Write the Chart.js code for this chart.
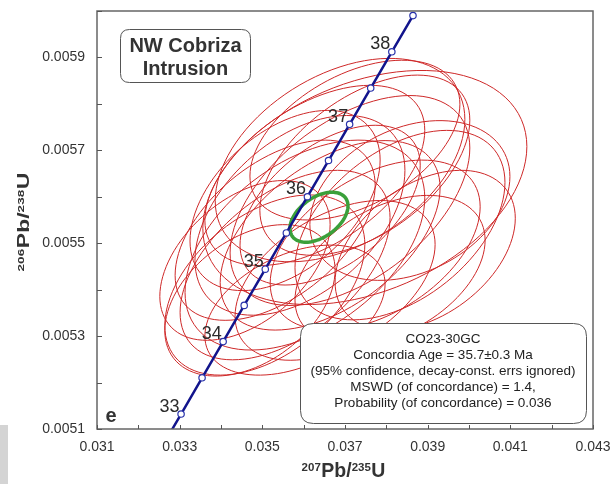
<!DOCTYPE html>
<html>
<head>
<meta charset="utf-8">
<script src="https://cdn.jsdelivr.net/npm/chart.js@4.4.1/dist/chart.umd.min.js"></script>
<style>
    html, body { margin: 0; padding: 0; background: #fff; }
    #wrap { position: relative; width: 614px; height: 484px; }
</style>
</head>
<body>
<div id="wrap"><canvas id="grafico" width="614" height="484"></canvas></div>
<script>
// --- DADOS: CONCORDIA (idade em Ma) ---
const idades = [32.5, 33, 33.5, 34, 34.5, 35, 35.5, 36, 36.5, 37, 37.5, 38, 38.5];
const conc207 = [0.032525, 0.033034, 0.033542, 0.034052, 0.034561, 0.035071, 0.035581, 0.036091, 0.036601, 0.037112, 0.037622, 0.038133, 0.038645];
const conc206 = [0.0050543, 0.0051322, 0.0052102, 0.0052882, 0.0053661, 0.0054441, 0.0055221, 0.0056001, 0.0056781, 0.0057561, 0.0058341, 0.0059122, 0.0059901];
const idadesRotulo = [33, 34, 35, 36, 37, 38];

// --- DADOS: ELIPSES DAS ANALISES (centro, erro 2s, correlacao) ---
const elipseX = [0.03748, 0.03688, 0.03857, 0.03591, 0.03664, 0.03506, 0.03470, 0.03555, 0.03712, 0.03773, 0.03809, 0.03627, 0.03531, 0.03748, 0.03458, 0.03676, 0.03894, 0.03603, 0.03724, 0.03579, 0.03664, 0.03555, 0.03833];
const elipseY = [0.005620, 0.005679, 0.005592, 0.005560, 0.005517, 0.005410, 0.005377, 0.005453, 0.005592, 0.005496, 0.005442, 0.005646, 0.005528, 0.005668, 0.005463, 0.005420, 0.005485, 0.005496, 0.005722, 0.005356, 0.005582, 0.005592, 0.005539];
const elipseSx = [0.00392, 0.00302, 0.00242, 0.00254, 0.00266, 0.00242, 0.00206, 0.00254, 0.00290, 0.00254, 0.00230, 0.00266, 0.00242, 0.00254, 0.00206, 0.00242, 0.00218, 0.00290, 0.00254, 0.00218, 0.00218, 0.00230, 0.00254];
const elipseSy = [0.000252, 0.000219, 0.000172, 0.000215, 0.000204, 0.000194, 0.000163, 0.000204, 0.000226, 0.000183, 0.000161, 0.000194, 0.000194, 0.000194, 0.000172, 0.000172, 0.000172, 0.000226, 0.000172, 0.000140, 0.000172, 0.000194, 0.000204];
const elipseRho = [0.35, 0.4, 0.3, 0.45, 0.5, 0.45, 0.4, 0.5, 0.5, 0.45, 0.4, 0.5, 0.5, 0.5, 0.45, 0.45, 0.4, 0.45, 0.45, 0.4, 0.5, 0.45, 0.45];

// idade concordia (elipse verde)
const idadeCentro = [0.03637, 0.005556];
const idadeErro = [0.000702, 0.0000538];
const idadeRho = 0.45;

// --- TEXTOS ---
const tituloAmostra = ['NW Cobriza', 'Intrusion'];
const textoResultado = [
    'CO23-30GC',
    'Concordia Age = 35.7\u00b10.3 Ma',
    '(95% confidence, decay-const. errs ignored)',
    'MSWD (of concordance) = 1.4,',
    'Probability (of concordance) = 0.036'
];
const tituloX = [['207', true], ['Pb/', false], ['235', true], ['U', false]];
const tituloY = [['206', true], ['Pb/', false], ['238', true], ['U', false]];

const corTexto = '#2b2b2b';

function caixaArredondada(ctx, x, y, w, h, r) {
    ctx.beginPath();
    ctx.moveTo(x + r, y);
    ctx.lineTo(x + w - r, y);
    ctx.quadraticCurveTo(x + w, y, x + w, y + r);
    ctx.lineTo(x + w, y + h - r);
    ctx.quadraticCurveTo(x + w, y + h, x + w - r, y + h);
    ctx.lineTo(x + r, y + h);
    ctx.quadraticCurveTo(x, y + h, x, y + h - r);
    ctx.lineTo(x, y + r);
    ctx.quadraticCurveTo(x, y, x + r, y);
    ctx.closePath();
}

function desenharElipse(ctx, escX, escY, cx, cy, sx, sy, rho) {
    const k = Math.sqrt(1 - rho * rho);
    ctx.beginPath();
    for (let i = 0; i <= 96; i++) {
        const t = i / 96 * 2 * Math.PI;
        const vx = cx + sx * Math.cos(t);
        const vy = cy + sy * (rho * Math.cos(t) + k * Math.sin(t));
        const px = escX.getPixelForValue(vx);
        const py = escY.getPixelForValue(vy);
        if (i === 0) ctx.moveTo(px, py); else ctx.lineTo(px, py);
    }
    ctx.closePath();
    ctx.stroke();
}

// texto com numeros de massa sobrescritos, centrado em (0,0)
function textoIsotopo(ctx, partes, tamanho, tamanhoSup) {
    const fonteN = `bold ${tamanho}px Arial, "Liberation Sans", sans-serif`;
    const fonteS = `bold ${tamanhoSup}px Arial, "Liberation Sans", sans-serif`;
    const subida = 0.716 * (tamanho - tamanhoSup) + 0.5;
    let total = 0;
    partes.forEach(([t, sup]) => {
        ctx.font = sup ? fonteS : fonteN;
        total += ctx.measureText(t).width + (sup ? 0.5 : 0);
    });
    let x = -total / 2;
    ctx.textAlign = 'left';
    ctx.textBaseline = 'alphabetic';
    partes.forEach(([t, sup]) => {
        ctx.font = sup ? fonteS : fonteN;
        ctx.fillText(t, x, sup ? -subida : 0);
        x += ctx.measureText(t).width + (sup ? 0.5 : 0);
    });
}

// zera o espaco extra que o Chart.js reserva para os rotulos das pontas
function semFolga(s) {
    s.paddingLeft = 0;
    s.paddingRight = 0;
    s.paddingTop = 0;
    s.paddingBottom = 0;
}

// --- PLUGIN: ELIPSES (atras da concordia) ---
const pluginElipses = {
    id: 'elipses',
    beforeDatasetsDraw(chart) {
        const { ctx, chartArea: a, scales: { x, y } } = chart;
        ctx.save();
        ctx.beginPath();
        ctx.rect(a.left, a.top, a.width, a.height);
        ctx.clip();
        ctx.strokeStyle = 'rgb(206, 40, 40)';
        ctx.lineWidth = 1;
        for (let i = 0; i < elipseX.length; i++) {
            desenharElipse(ctx, x, y, elipseX[i], elipseY[i], elipseSx[i], elipseSy[i], elipseRho[i]);
        }
        ctx.strokeStyle = 'rgb(58, 160, 58)';
        ctx.lineWidth = 3.5;
        desenharElipse(ctx, x, y, idadeCentro[0], idadeCentro[1], idadeErro[0], idadeErro[1], idadeRho);
        ctx.restore();
    }
};

// --- PLUGIN: MOLDURA, TICKS, CAIXAS E TITULOS ---
const pluginDecoracao = {
    id: 'decoracao',
    afterDatasetsDraw(chart) {
        const { ctx, chartArea: a, scales: { x, y } } = chart;
        ctx.save();

        // rotulos de idade na concordia
        ctx.font = '18px Arial, "Liberation Sans", sans-serif';
        ctx.fillStyle = corTexto;
        ctx.textAlign = 'center';
        ctx.textBaseline = 'middle';
        idadesRotulo.forEach(idade => {
            const i = idades.indexOf(idade);
            const px = x.getPixelForValue(conc207[i]);
            const py = y.getPixelForValue(conc206[i]);
            ctx.fillText(String(idade), px - 11.5, py - 7.5);
        });

        // caixa do resultado
        caixaArredondada(ctx, 300.5, 323.5, 286, 100, 13);
        ctx.fillStyle = '#fff';
        ctx.fill();
        ctx.strokeStyle = '#555';
        ctx.lineWidth = 1;
        ctx.stroke();
        ctx.fillStyle = '#222';
        ctx.font = '13.5px Arial, "Liberation Sans", sans-serif';
        textoResultado.forEach((linha, i) => ctx.fillText(linha, 443, 339 + i * 16));

        // caixa do nome da amostra
        caixaArredondada(ctx, 120.5, 29.5, 130, 53, 9);
        ctx.fillStyle = '#fff';
        ctx.fill();
        ctx.strokeStyle = '#555';
        ctx.stroke();
        ctx.fillStyle = '#333';
        ctx.font = 'bold 20px Arial, "Liberation Sans", sans-serif';
        ctx.fillText(tituloAmostra[0], 185.5, 46);
        ctx.fillText(tituloAmostra[1], 185.5, 69.5);

        // letra do painel
        ctx.font = 'bold 20px Arial, "Liberation Sans", sans-serif';
        ctx.fillText('e', 111, 416);

        // moldura
        ctx.strokeStyle = '#666';
        ctx.lineWidth = 1.5;
        ctx.strokeRect(a.left, a.top, a.width, a.height);

        // ticks para dentro
        ctx.lineWidth = 1;
        ctx.strokeStyle = '#555';
        ctx.beginPath();
        x.ticks.forEach(t => {
            const px = Math.round(x.getPixelForValue(t.value)) + 0.5;
            ctx.moveTo(px, a.bottom);
            ctx.lineTo(px, a.bottom - 4);
        });
        y.ticks.forEach(t => {
            const py = Math.round(y.getPixelForValue(t.value)) + 0.5;
            ctx.moveTo(a.left, py);
            ctx.lineTo(a.left + 5, py);
        });
        ctx.stroke();

        // titulos dos eixos
        ctx.fillStyle = '#333';
        ctx.save();
        ctx.translate((a.left + a.right) / 2 - 1.5, 477);
        textoIsotopo(ctx, tituloX, 19.5, 11.5);
        ctx.restore();
        ctx.save();
        ctx.translate(29, (a.top + a.bottom) / 2 + 2);
        ctx.rotate(-Math.PI / 2);
        ctx.scale(1.18, 0.85);
        textoIsotopo(ctx, tituloY, 19.5, 11.5);
        ctx.restore();

        // faixa cinza no canto
        ctx.fillStyle = '#d4d4d4';
        ctx.fillRect(0, 425, 8, 59);

        ctx.restore();
    }
};

const ctx = document.getElementById('grafico').getContext('2d');

new Chart(ctx, {
    type: 'scatter',
    data: {
        datasets: [{
            label: 'Concordia',
            data: idades.map((t, i) => ({ x: conc207[i], y: conc206[i] })),
            showLine: true,
            borderColor: 'rgb(18, 20, 140)',
            borderWidth: 2.5,
            pointRadius: idades.map(t => (t >= 33 ? 3.2 : 0)),
            pointBackgroundColor: '#fff',
            pointBorderColor: 'rgb(40, 50, 170)',
            pointBorderWidth: 1.2,
            tension: 0
        }]
    },
    options: {
        responsive: false,
        animation: false,
        layout: { padding: { left: 0, right: 21, top: 11, bottom: 0 } },
        plugins: { legend: { display: false }, tooltip: { enabled: false } },
        scales: {
            x: {
                type: 'linear',
                min: 0.031,
                max: 0.043,
                afterFit: s => { s.height = 55; semFolga(s); },
                grid: { display: false, drawTicks: false },
                border: { display: false },
                ticks: {
                    stepSize: 0.001,
                    autoSkip: false,
                    maxRotation: 0,
                    padding: 10,
                    color: '#333',
                    font: { size: 14, family: 'Arial, "Liberation Sans", sans-serif' },
                    callback: v => (Math.round(v * 1000) % 2 === 1 ? v.toFixed(3) : '')
                }
            },
            y: {
                type: 'linear',
                min: 0.0051,
                max: 0.0060,
                afterFit: s => { s.width = 97; semFolga(s); },
                grid: { display: false, drawTicks: false },
                border: { display: false },
                ticks: {
                    stepSize: 0.0001,
                    autoSkip: false,
                    padding: 12,
                    color: '#333',
                    font: { size: 14, family: 'Arial, "Liberation Sans", sans-serif' },
                    callback: v => (Math.round(v * 10000) % 2 === 1 ? v.toFixed(4) : '')
                }
            }
        }
    },
    plugins: [pluginElipses, pluginDecoracao]
});
</script>
</body>
</html>
